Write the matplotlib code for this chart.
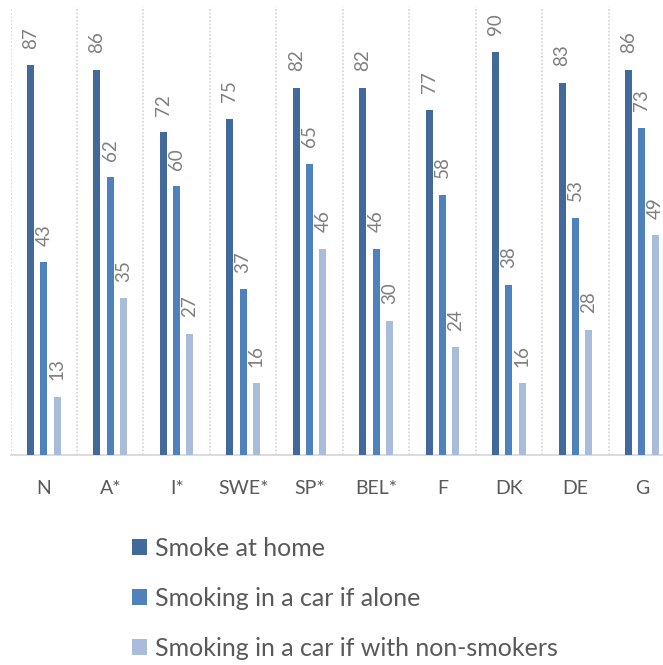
import matplotlib
matplotlib.use("Agg")
import matplotlib.pyplot as plt
import numpy as np

categories = ["N", "A*", "I*", "SWE*", "SP*", "BEL*", "F", "DK", "DE", "G"]
smoke_home = [87, 86, 72, 75, 82, 82, 77, 90, 83, 86]
car_alone = [43, 62, 60, 37, 65, 46, 58, 38, 53, 73]
car_nonsmokers = [13, 35, 27, 16, 46, 30, 24, 16, 28, 49]
series_names = ["Smoke at home", "Smoking in a car if alone",
                "Smoking in a car if with non-smokers"]
colors = ["#41699C", "#4F81BD", "#A9BCDA"]

plt.rcParams['font.family'] = ['Lato', 'DejaVu Sans']
W, H = 663, 665
fig = plt.figure(figsize=(W / 100, H / 100), dpi=100)
left, right, top, bottom = 10.6, 675, 7, 455
ax = fig.add_axes([left / W, 1 - bottom / H, (right - left) / W, (bottom - top) / H])

x = np.arange(len(categories))
bw = 0.105
offs = [-0.2, 0.0, 0.2]
label_color = "#7F7F7F"
for vals, off, c, name in zip([smoke_home, car_alone, car_nonsmokers], offs, colors, series_names):
    bars = ax.bar(x + off, vals, width=bw, color=c, label=name, zorder=3)
    for b, v in zip(bars, vals):
        ax.annotate(str(v), (b.get_x() + b.get_width() / 2, v),
                    xytext=(0, 12), textcoords="offset points",
                    rotation=90, ha="center", va="bottom",
                    fontsize=13.5, color=label_color)

ax.set_xlim(-0.5, len(categories) - 0.5)
ax.set_ylim(0, 100)
for b in np.arange(-0.5, len(categories) + 0.5, 1):
    ax.axvline(b, color="#D9D9D9", lw=1.3, ls=(0, (1, 1)), zorder=1)
for s in ["top", "right", "left"]:
    ax.spines[s].set_visible(False)
ax.spines["bottom"].set_color("#D9D9D9")
ax.spines["bottom"].set_linewidth(1.3)
ax.set_yticks([])
ax.set_xticks(x)
ax.set_xticklabels(categories, fontsize=14, color="#595959")
ax.tick_params(axis="x", length=0, pad=18)

fig.legend(loc="upper left", bbox_to_anchor=(122 / W, 1 - 527 / H),
           frameon=False, fontsize=18, labelcolor="#595959",
           handlelength=0.6, handleheight=0.6, handletextpad=0.33,
           labelspacing=1.08, borderaxespad=0)

fig.savefig("out.png", dpi=100)
